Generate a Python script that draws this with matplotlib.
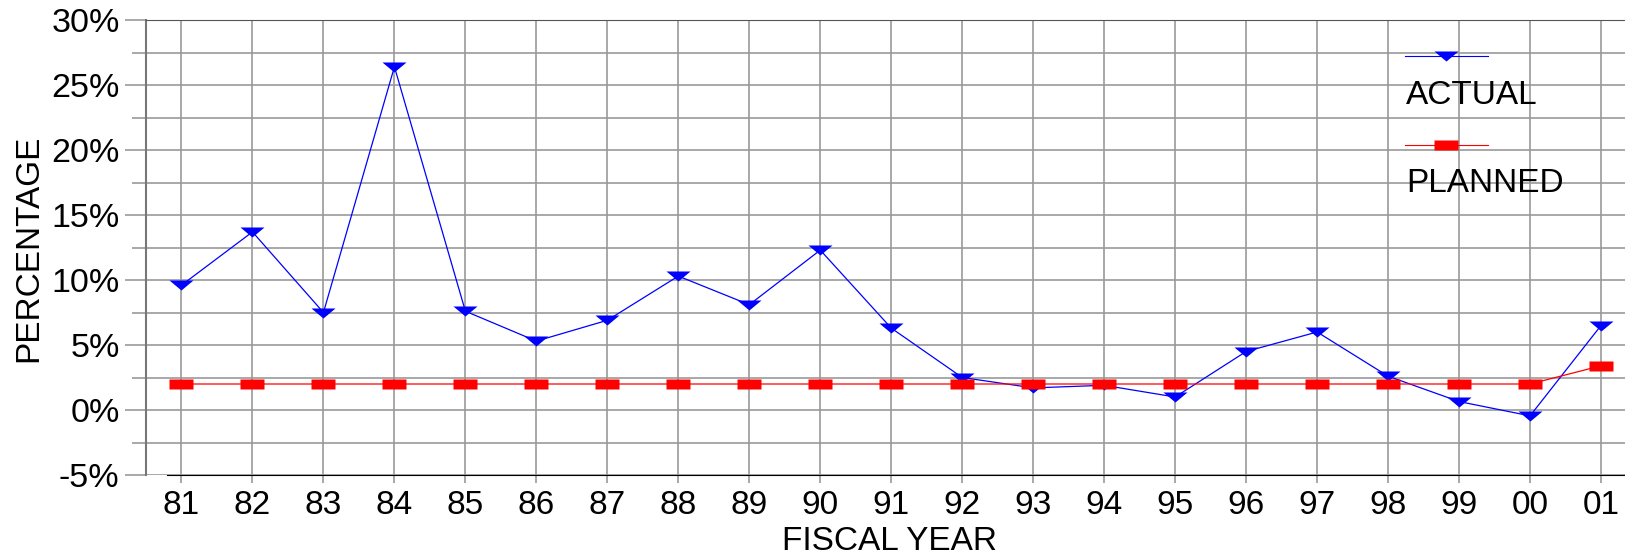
import matplotlib.pyplot as plt
from matplotlib.lines import Line2D
from matplotlib.ticker import MultipleLocator, FuncFormatter

plt.rcParams['font.family'] = ['Liberation Sans', 'DejaVu Sans']

# fiscal years and percentages
years = ['81', '82', '83', '84', '85', '86', '87', '88', '89', '90', '91',
         '92', '93', '94', '95', '96', '97', '98', '99', '00', '01']
actual = [9.6, 13.7, 7.5, 26.4, 7.6, 5.3, 6.9, 10.3, 8.1, 12.3, 6.3,
          2.5, 1.7, 1.9, 1.0, 4.5, 6.0, 2.6, 0.65, -0.45, 6.5]
planned = [2.0, 2.0, 2.0, 2.0, 2.0, 2.0, 2.0, 2.0, 2.0, 2.0, 2.0,
           2.0, 2.0, 2.0, 2.0, 2.0, 2.0, 2.0, 2.0, 2.0, 3.4]

# flat marker shapes
tri = [(-1, 0.4167), (1, 0.4167), (0, -0.4167)]
rect = [(-1, -0.375), (1, -0.375), (1, 0.375), (-1, 0.375)]

W, H = 1625, 555
fig = plt.figure(figsize=(W / 100, H / 100), dpi=100)
ax = fig.add_axes([146 / W, 80 / H, (1636.5 - 146) / W, 455 / H])

x = list(range(len(years)))
ax.plot(x, actual, color='#0000ff', lw=0.9, marker=tri, ms=17.3,
        mec='none', zorder=3, clip_on=False)
ax.plot(x, planned, color='#ff0000', lw=0.9, marker=rect, ms=17.3,
        mec='none', zorder=4, clip_on=False)

ax.set_xlim(-0.5, 20.5)
ax.set_ylim(-5, 30)
ax.set_xticks(x)
ax.set_xticklabels(years)
ax.yaxis.set_major_locator(MultipleLocator(5))
ax.yaxis.set_minor_locator(MultipleLocator(2.5))
ax.yaxis.set_major_formatter(FuncFormatter(lambda v, p: f"{int(round(v))}%"))

ax.grid(True, which='both', color='#999999', lw=1.2)
ax.set_axisbelow(True)
ax.tick_params(axis='y', which='major', length=15, width=1.2, color='#999999',
               labelsize=24.5, pad=4)
ax.tick_params(axis='y', which='minor', length=10, width=1.2, color='#999999')
ax.tick_params(axis='x', length=6, width=1.2, color='#999999', labelsize=24, pad=4.5)

ax.spines['right'].set_visible(False)
ax.spines['left'].set_color('#777777')
ax.spines['left'].set_linewidth(1.5)
ax.spines['top'].set_color('#555555')
ax.spines['bottom'].set_color('black')
ax.spines['bottom'].set_bounds(-0.2, 20.5)

fig.text(29 / W, 1 - 248 / H, 'PERCENTAGE', rotation=90, ha='center',
         va='center', fontsize=24)
fig.text(890 / W, 1 - 550.5 / H, 'FISCAL YEAR', ha='center',
         va='baseline', fontsize=24)

# legend: handle above its label, no frame
def px(xp, yp):
    return xp / W, 1 - yp / H

for y_line, y_text, col, mk, lab in [(56, 95, '#0000ff', tri, 'ACTUAL'),
                                     (145, 183, '#ff0000', rect, 'PLANNED')]:
    (x0, y0), (x1, _) = px(1405, y_line), px(1488, y_line)
    fig.add_artist(Line2D([x0, x1], [y0, y0], color=col, lw=0.8,
                          transform=fig.transFigure))
    xm, _ = px(1446, y_line)
    fig.add_artist(Line2D([xm], [y0], color=col, marker=mk, ms=17.3,
                          mec='none', transform=fig.transFigure))
    tx, ty = px(1406, y_text)
    fig.text(tx, ty, lab, ha='left', va='center', fontsize=24)

fig.savefig('out.png', dpi=100)
